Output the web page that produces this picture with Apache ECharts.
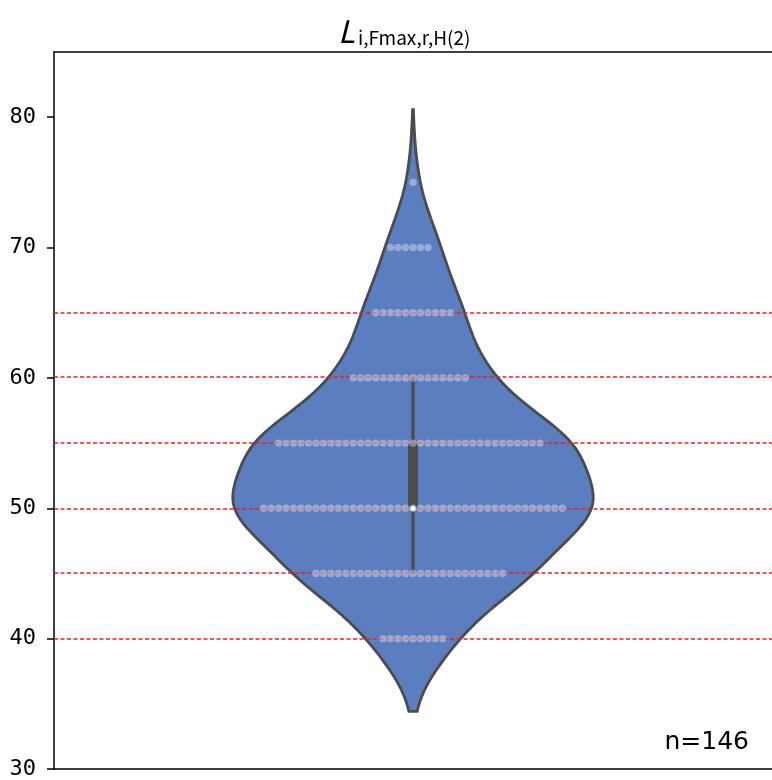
<!DOCTYPE html>
<html>
<head>
<meta charset="utf-8">
<script src="https://cdn.jsdelivr.net/npm/echarts@6/dist/echarts.min.js"></script>
<style>
html,body{margin:0;padding:0;background:#fff;}
#chart{width:772px;height:780px;}
</style>
</head>
<body>
<div id="chart"></div>
<script>
// ---- data ----
const values = [40, 45, 50, 55, 60, 65, 70, 75];
const counts = [9, 26, 41, 36, 16, 11, 6, 1];
const yTicks = [30, 40, 50, 60, 70, 80];
const refLines = [40, 45, 50, 55, 60, 65];
const titleMain = 'L';
const titleSub = 'i,Fmax,r,H(2)';

// ---- derived statistics ----
const samples = [];
values.forEach((v, i) => { for (let k = 0; k < counts[i]; k++) samples.push(v); });
samples.sort((a, b) => a - b);
const n = samples.length;
const mean = samples.reduce((a, b) => a + b, 0) / n;
const sd = Math.sqrt(samples.reduce((a, b) => a + (b - mean) * (b - mean), 0) / (n - 1));
const bw = sd * Math.pow(n, -1 / 5);
function pct(p) {
  const idx = p * (n - 1), lo = Math.floor(idx), hi = Math.ceil(idx);
  return samples[lo] + (samples[hi] - samples[lo]) * (idx - lo);
}
const q1 = pct(0.25), med = pct(0.5), q3 = pct(0.75);
const iqr = q3 - q1;
const wLo = samples.find(v => v >= q1 - 1.5 * iqr);
const wHi = samples.slice().reverse().find(v => v <= q3 + 1.5 * iqr);

const gridN = 120;
const yMinK = samples[0] - 2 * bw, yMaxK = samples[n - 1] + 2 * bw;
const kde = [];
for (let i = 0; i < gridN; i++) {
  const y = yMinK + (yMaxK - yMinK) * i / (gridN - 1);
  let d = 0;
  for (let j = 0; j < values.length; j++) {
    const z = (y - values[j]) / bw;
    d += counts[j] * Math.exp(-0.5 * z * z);
  }
  kde.push([y, d]);
}
const dMax = Math.max(...kde.map(p => p[1]));
const HALF_W = 0.251;
const violinPts = kde.map(p => [p[0], p[1] / dMax * HALF_W]);

const DOT_STEP = 0.0104;
const dots = [];
values.forEach((v, i) => {
  const c = counts[i];
  for (let k = -Math.floor(c / 2); k <= Math.ceil(c / 2) - 1; k++) dots.push([k * DOT_STEP, v]);
});

const chart = echarts.init(document.getElementById('chart'));
chart.setOption({
  animation: false,
  grid: { left: 54, right: -10, top: 52, bottom: 8 },
  xAxis: [
    { type: 'value', min: -0.5, max: 0.5, position: 'bottom',
      axisLine: { show: true, onZero: false, lineStyle: { color: '#000', width: 1.5 } },
      axisTick: { show: false }, axisLabel: { show: false }, splitLine: { show: false } },
    { type: 'value', min: -0.5, max: 0.5, position: 'top',
      axisLine: { show: true, onZero: false, lineStyle: { color: '#000', width: 1.5 } },
      axisTick: { show: false }, axisLabel: { show: false }, splitLine: { show: false } }
  ],
  yAxis: {
    type: 'value', min: 30, max: 85, interval: 10,
    axisLine: { show: true, onZero: false, lineStyle: { color: '#000', width: 1.5 } },
    axisTick: { show: true, length: 7, customValues: yTicks, lineStyle: { color: '#000', width: 1.5 } },
    axisLabel: { customValues: yTicks, margin: 18, color: '#000', fontSize: 22, fontFamily: 'DejaVu Sans Mono' },
    splitLine: { show: false }
  },
  graphic: [
    { type: 'text', left: 338, top: 16, style: { text: titleMain, font: 'italic 31px "Noto Sans CJK JP", "Noto Sans"', fill: '#000' } },
    { type: 'text', left: 358, top: 28, style: { text: titleSub, font: '19px "Noto Sans CJK JP", "Noto Sans"', fill: '#000' } },
    { type: 'text', right: 23, top: 730, style: { text: 'n=' + n, font: '25px "DejaVu Sans"', fill: '#000' } }
  ],
  series: [
    {
      type: 'custom', z: 1, silent: true,
      data: [0],
      renderItem: function (params, api) {
        const right = violinPts.map(p => api.coord([p[1], p[0]]));
        const left = violinPts.slice().reverse().map(p => api.coord([-p[1], p[0]]));
        return {
          type: 'polygon',
          shape: { points: right.concat(left) },
          style: { fill: '#5a7ec0', stroke: '#4c4c4c', lineWidth: 2.8 }
        };
      }
    },
    {
      type: 'custom', z: 2, silent: true,
      data: refLines.map(v => [v]),
      renderItem: function (params, api) {
        const v = api.value(0);
        const a = api.coord([-0.5, v]), b = api.coord([0.5, v]);
        const y = 2 * Math.floor(a[1] / 2) + 1;
        return {
          type: 'line',
          shape: { x1: a[0], y1: y, x2: b[0], y2: y },
          style: { stroke: '#f01c1c', lineWidth: 1.6, lineDash: [4, 2.5] }
        };
      }
    },
    {
      type: 'custom', z: 3, silent: true,
      data: [0],
      renderItem: function (params, api) {
        const top = api.coord([0, wHi]), bot = api.coord([0, wLo]);
        const b1 = api.coord([0, q3]), b2 = api.coord([0, q1]);
        const m = api.coord([0, med]);
        return {
          type: 'group',
          children: [
            { type: 'line', shape: { x1: top[0], y1: top[1], x2: bot[0], y2: bot[1] }, style: { stroke: '#4c4c4c', lineWidth: 3.4 } },
            { type: 'rect', shape: { x: b1[0] - 5, y: b1[1], width: 10, height: b2[1] - b1[1] }, style: { fill: '#4c4c4c' } },
            { type: 'circle', shape: { cx: m[0], cy: m[1], r: 2.6 }, style: { fill: '#fff' } }
          ]
        };
      }
    },
    {
      type: 'scatter', z: 4, silent: true,
      data: dots, symbolSize: 7.4,
      itemStyle: { color: 'rgba(255,255,255,0.45)' }
    }
  ]
});
</script>
</body>
</html>
